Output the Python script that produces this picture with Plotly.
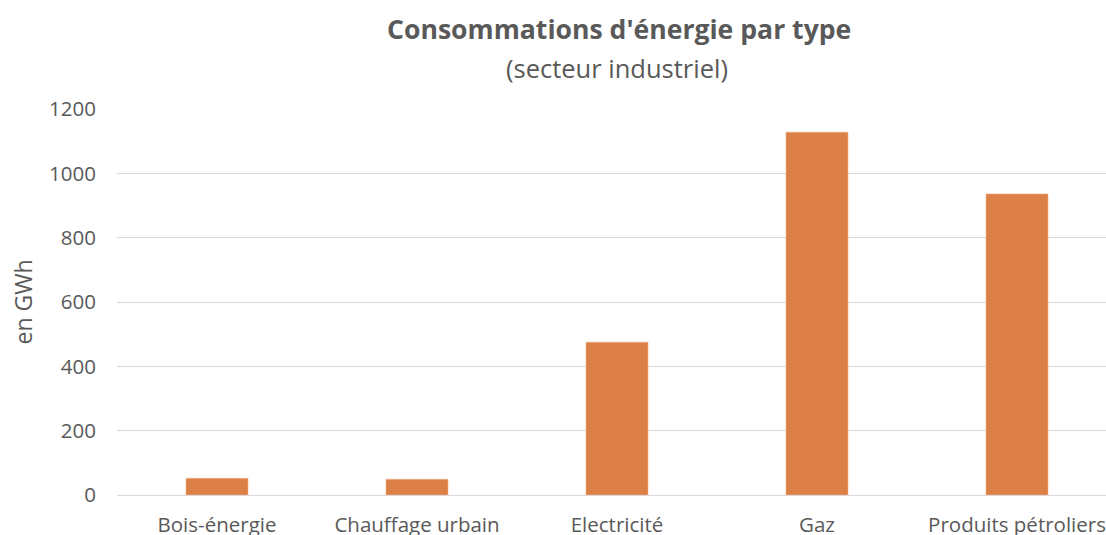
import plotly.graph_objects as go

# Consommations d'énergie du secteur industriel, en GWh
categories = ["Bois-énergie", "Chauffage urbain", "Electricité", "Gaz", "Produits pétroliers"]
consommation_gwh = [52, 49, 475, 1128, 936]
y_ticks = [0, 200, 400, 600, 800, 1000, 1200]

FONT = "Open Sans"
GREY = "#595959"

fig = go.Figure()
fig.add_trace(go.Bar(
    x=categories,
    y=consommation_gwh,
    width=0.31,
    marker=dict(color="#DD8047", line=dict(color="#F0B48C", width=0.6)),
    hoverinfo="x+y",
))

fig.update_layout(
    width=1106,
    height=535,
    margin=dict(l=117, r=0, t=109, b=40),
    plot_bgcolor="white",
    paper_bgcolor="white",
    showlegend=False,
    font=dict(family=FONT, color=GREY, size=20),
    xaxis=dict(
        range=[-0.5, 4.445],
        automargin=False,
        showgrid=False,
        showline=True,
        linecolor="#D9D9D9",
        linewidth=1,
        ticks="",
        tickfont=dict(family=FONT, size=20.5, color=GREY),
        ticklabelstandoff=11,
    ),
    yaxis=dict(
        range=[0, 1200],
        automargin=False,
        tickvals=y_ticks,
        showgrid=True,
        gridcolor="#D9D9D9",
        gridwidth=1,
        zeroline=False,
        ticks="",
        ticklabelstandoff=20,
        tickfont=dict(family=FONT, size=20.5, color=GREY),
        title=dict(text="en GWh", font=dict(family=FONT, size=23, color=GREY), standoff=10),
    ),
    annotations=[
        dict(text="<b>Consommations d'énergie par type</b>", xref="paper", yref="paper",
             x=(619 - 117) / 989, y=1, yshift=80, showarrow=False,
             font=dict(family=FONT, size=26.6, color=GREY), xanchor="center", yanchor="middle"),
        dict(text="(secteur industriel)", xref="paper", yref="paper",
             x=(617 - 117) / 989, y=1, yshift=41, showarrow=False,
             font=dict(family=FONT, size=25.5, color=GREY), xanchor="center", yanchor="middle"),
    ],
)

fig.write_html("out.html")
